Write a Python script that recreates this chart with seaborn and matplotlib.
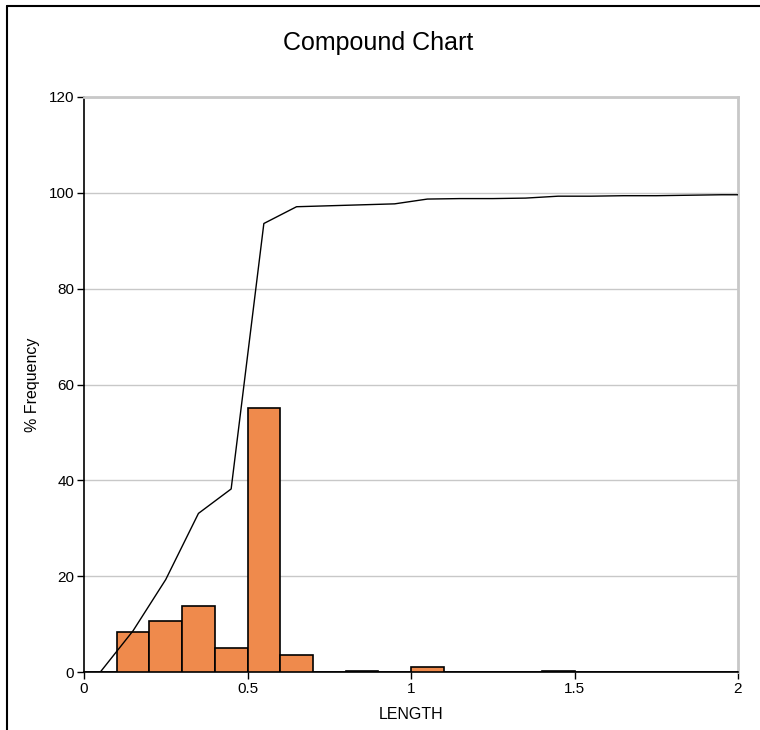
import numpy as np
import pandas as pd
import matplotlib
matplotlib.use("Agg")
import matplotlib.pyplot as plt
import seaborn as sns
from matplotlib.lines import Line2D

# Histogram bins (width 0.1) and percent frequency
bin_edges = [round(0.1 * i, 1) for i in range(21)]
bin_centers = [round(0.05 + 0.1 * i, 2) for i in range(20)]
freq = [0.1, 8.3, 10.6, 13.7, 5.1, 55.0, 3.5, 0.0, 0.2, 0.0,
        1.1, 0.1, 0.0, 0.0, 0.3, 0.0, 0.0, 0.0, 0.0, 0.1]

# Cumulative % line, one point per bin centre (last point runs past the axis)
cum_x = bin_centers + [2.05]
cum_y = [0.0, 8.6, 19.3, 33.1, 38.2, 93.6, 97.1, 97.3, 97.5, 97.7,
         98.7, 98.8, 98.8, 98.9, 99.3, 99.3, 99.4, 99.4, 99.5, 99.6, 99.6]

df = pd.DataFrame({"LENGTH": bin_centers, "freq": freq})
cum = pd.DataFrame({"LENGTH": cum_x, "cum": cum_y})

sns.set_style("white")
plt.rcParams["font.family"] = ["Liberation Sans", "DejaVu Sans"]
plt.rcParams["text.color"] = "black"
plt.rcParams["axes.labelcolor"] = "black"
plt.rcParams["xtick.color"] = "black"
plt.rcParams["ytick.color"] = "black"

fig = plt.figure(figsize=(7.6, 7.3), dpi=100)
ax = fig.add_axes([84 / 760, 58 / 730, 654 / 760, 575 / 730])

sns.histplot(data=df, x="LENGTH", weights="freq", bins=bin_edges,
             color="#EF8A4C", alpha=1, edgecolor="black", linewidth=1.2,
             ax=ax, zorder=3)
sns.lineplot(data=cum, x="LENGTH", y="cum", color="black", linewidth=1,
             ax=ax, zorder=4)

ax.set_xlim(0, 2)
ax.set_ylim(0, 120)
ax.set_xticks([0, 0.5, 1, 1.5, 2])
ax.set_xticklabels(["0", "0.5", "1", "1.5", "2"])
ax.set_yticks(range(0, 121, 20))
ax.yaxis.grid(True, color="#c8c8c8", linewidth=1)
ax.set_axisbelow(True)

for side in ["top", "right"]:
    ax.spines[side].set_color("#c8c8c8")
    ax.spines[side].set_linewidth(2)
for side in ["left", "bottom"]:
    ax.spines[side].set_color("black")
    ax.spines[side].set_linewidth(1.2)

ax.tick_params(axis="both", which="both", direction="out", length=5,
               width=1, labelsize=11, pad=2, bottom=True, left=True)
ax.set_xlabel("LENGTH", fontsize=11.5, labelpad=8)
ax.set_ylabel("% Frequency", fontsize=11.5, labelpad=6)

fig.text(378 / 760, 1 - 43 / 730, "Compound Chart", fontsize=18,
         ha="center", va="center")

# outer frame (left and top edges visible in the reference)
fig.add_artist(Line2D([7 / 760, 7 / 760], [0, 1 - 6 / 730], color="black",
                      linewidth=1.5, transform=fig.transFigure))
fig.add_artist(Line2D([7 / 760, 1], [1 - 6 / 730, 1 - 6 / 730], color="black",
                      linewidth=1.5, transform=fig.transFigure))

fig.savefig("out.png", dpi=100)
